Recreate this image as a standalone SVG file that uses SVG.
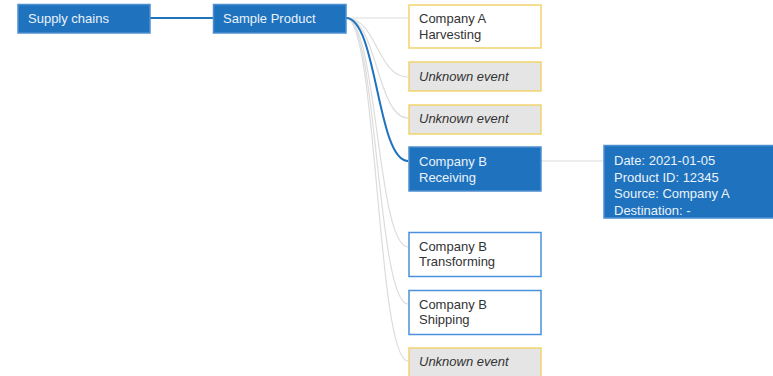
<svg xmlns="http://www.w3.org/2000/svg" width="773" height="376" viewBox="0 0 773 376">
  <style>
    .box { stroke-width: 1.5; }
    .sel { fill: #1f73be; stroke: #4d8fd0; }
    .known { fill: #ffffff; stroke: #f3d36c; }
    .unknown { fill: #e5e5e5; stroke: #f3d36c; }
    .own { fill: #ffffff; stroke: #4a90dc; }
    .detail { fill: #1f73be; stroke: #4d8fd0; }
    text { font-family: "Liberation Sans", Arial, sans-serif; font-size: 13px; fill: #333333; }
    .light { fill: #eaf2fa; }
    .it { font-style: italic; }
    .link { fill: none; stroke: #dcdcdc; stroke-width: 1.2; }
    .link.active { stroke: #1f73be; stroke-width: 2; }
  </style>

  <g id="connectors">
    <path class="link" d="M346,18 H408"/>
    <path class="link" d="M346,18 C377,18 377,77 408,77"/>
    <path class="link" d="M346,18 C377,18 377,118 408,118"/>
    <path class="link" d="M346,18 C377,18 377,247 408,247"/>
    <path class="link" d="M346,18 C377,18 377,304 408,304"/>
    <path class="link" d="M346,18 C377,18 377,361 408,361"/>
    <path class="link" d="M541,161 H604"/>
    <path class="link active" d="M150,18 H213"/>
    <path class="link active" d="M346,18 C377,18 377,161 408,161"/>
  </g>

  <g id="node-supply-chains">
    <rect class="box sel" x="18" y="4.5" width="132" height="28.5"/>
    <text class="light" x="28" y="23">Supply chains</text>
  </g>

  <g id="node-sample-product">
    <rect class="box sel" x="213.5" y="4.5" width="132.5" height="28.5"/>
    <text class="light" x="223" y="23">Sample Product</text>
  </g>

  <g id="node-harvesting">
    <rect class="box known" x="409" y="5" width="132" height="43"/>
    <text x="419" y="23">Company A</text>
    <text x="419" y="38.5">Harvesting</text>
  </g>

  <g id="node-unknown-1">
    <rect class="box unknown" x="409" y="62" width="132" height="29"/>
    <text class="it" x="419" y="81">Unknown event</text>
  </g>

  <g id="node-unknown-2">
    <rect class="box unknown" x="409" y="105" width="132" height="29"/>
    <text class="it" x="419" y="123">Unknown event</text>
  </g>

  <g id="node-receiving">
    <rect class="box sel" x="409" y="147" width="132" height="44"/>
    <text class="light" x="419" y="166">Company B</text>
    <text class="light" x="419" y="181.5">Receiving</text>
  </g>

  <g id="node-receiving-details">
    <rect class="box detail" x="604" y="145.5" width="172" height="72.5"/>
    <text class="light" x="614" y="165">Date: 2021-01-05</text>
    <text class="light" x="614" y="181.5">Product ID: 12345</text>
    <text class="light" x="614" y="198">Source: Company A</text>
    <text class="light" x="614" y="214.5">Destination: -</text>
  </g>

  <g id="node-transforming">
    <rect class="box own" x="409" y="232.5" width="132" height="44"/>
    <text x="419" y="250.5">Company B</text>
    <text x="419" y="266">Transforming</text>
  </g>

  <g id="node-shipping">
    <rect class="box own" x="409" y="290.5" width="132" height="44"/>
    <text x="419" y="308.5">Company B</text>
    <text x="419" y="324">Shipping</text>
  </g>

  <g id="node-unknown-3">
    <rect class="box unknown" x="409" y="348" width="132" height="29"/>
    <text class="it" x="419" y="366">Unknown event</text>
  </g>
</svg>
